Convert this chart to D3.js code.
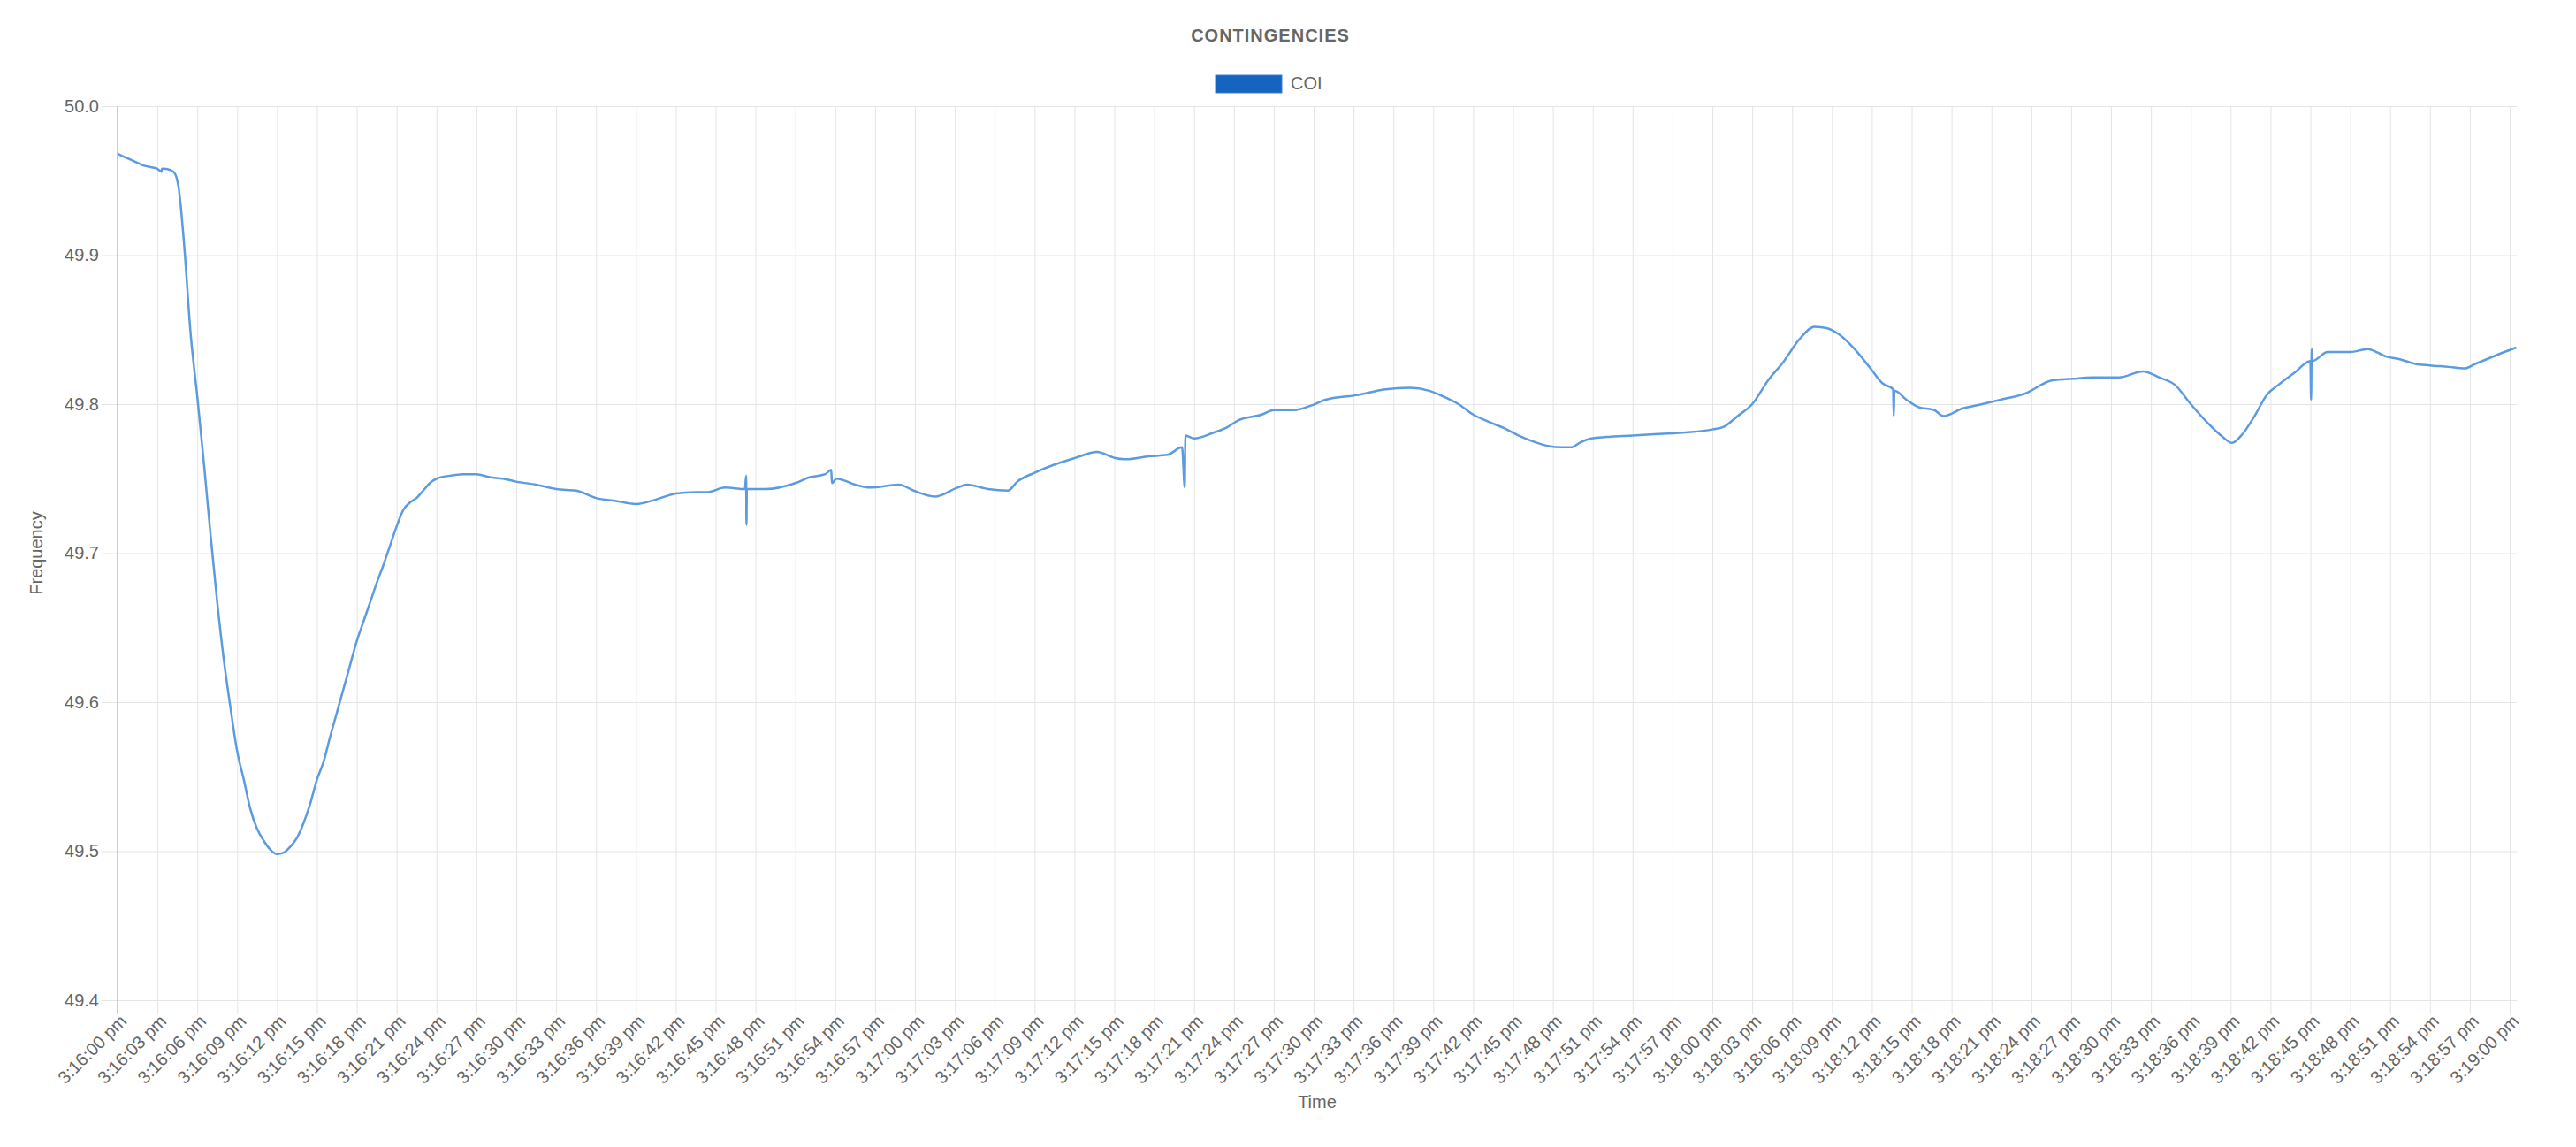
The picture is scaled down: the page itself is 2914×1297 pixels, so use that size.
<!DOCTYPE html>
<meta charset="utf-8">
<head>
  <script src="https://d3js.org/d3.v7.min.js"></script>
  <style>
    body { margin: 0; background: #fff; }
    text { font-family: "Liberation Sans", Arial, Helvetica, sans-serif; fill: #666; }
  </style>
</head>
<body>
<svg width="2914" height="1297"></svg>
<script>
// seconds after 3:16:00 pm
var seconds = [
  0, 0.5, 1, 1.5, 2, 2.5, 3, 3.3, 3.35, 3.5, 4, 4.3, 4.6, 5, 5.5, 6, 6.5, 7, 7.5, 8, 8.5, 9, 9.5,
  10, 10.5, 11, 11.5, 12, 12.5, 13, 13.5, 14, 14.5, 15, 15.5, 16, 16.5, 17, 17.5, 18, 18.5, 19, 19.5,
  20, 20.5, 21, 21.5, 22, 22.5, 23, 23.5, 24, 25, 26, 27, 28, 29, 30, 31.5, 33, 34.5, 36, 37.5, 39,
  40.5, 42, 43.5, 44.4, 45.7, 47.2, 47.3, 47.32, 47.35, 48.8, 51, 52.1, 53.25, 53.7, 53.75, 54.1,
  55.5, 56.6, 58.8, 59.9, 61.5, 63.2, 63.9, 65.5, 67, 67.7, 69, 71, 72.1, 73.7, 75, 75.9, 77.6, 79,
  80.1, 80.3, 80.35, 81, 82.5, 83.4, 84.3, 86.1, 87, 88.5, 89.8, 90.9, 93.2, 95.4, 97.2, 98.7, 99.8,
  100.9, 102, 103.2, 104.3, 105.4, 106.5, 107.6, 108.7, 109.4, 110, 110.9, 112, 114, 116, 118, 120,
  120.9, 121.9, 123, 124.2, 125.4, 126.5, 127.7, 128.6, 129.5, 130.7, 131.9, 132.8, 133.6, 133.65,
  133.7, 134.6, 135.5, 136.7, 137.4, 138.8, 140.3, 141.7, 143.5, 145.6, 147.1, 148.6, 150.6, 152.4,
  153.6, 154.8, 156, 157.2, 158.4, 159.1, 159.9, 160.8, 161.7, 162.6, 163.8, 165, 165.05, 165.1,
  165.15, 166.3, 168, 169.3, 170.7, 171.8, 172.9, 174, 175.4, 176.6, 177.4, 178.5, 179.6, 180.5
];
var frequency = [
  49.968, 49.966, 49.964, 49.962, 49.960, 49.959, 49.958, 49.956, 49.958, 49.958, 49.957, 49.955, 49.945, 49.908, 49.847, 49.805, 49.760, 49.712, 49.667, 49.628, 49.596, 49.567, 49.548,
  49.528, 49.515, 49.507, 49.501, 49.498, 49.499, 49.503, 49.509, 49.519, 49.532, 49.548, 49.560, 49.577, 49.593, 49.609, 49.625, 49.641, 49.654, 49.667, 49.680,
  49.692, 49.705, 49.718, 49.729, 49.734, 49.737, 49.742, 49.747, 49.750, 49.752, 49.753, 49.753, 49.751, 49.750, 49.748, 49.746, 49.743, 49.742, 49.737, 49.735, 49.733,
  49.736, 49.740, 49.741, 49.741, 49.744, 49.743, 49.752, 49.719, 49.743, 49.743, 49.747, 49.751, 49.753, 49.756, 49.747, 49.750,
  49.746, 49.744, 49.746, 49.742, 49.738, 49.744, 49.746, 49.743, 49.742, 49.748, 49.754, 49.761, 49.764, 49.768, 49.764, 49.763, 49.765, 49.766,
  49.771, 49.744, 49.779, 49.777, 49.781, 49.784, 49.789, 49.793, 49.796, 49.796, 49.799, 49.803, 49.806, 49.810, 49.811, 49.809, 49.805,
  49.800, 49.793, 49.788, 49.784, 49.779, 49.775, 49.772, 49.771, 49.771, 49.774, 49.777, 49.778, 49.779, 49.780, 49.781, 49.783,
  49.785, 49.792, 49.800, 49.816, 49.829, 49.843, 49.852, 49.851, 49.847, 49.837, 49.824, 49.814, 49.810, 49.792,
  49.809, 49.803, 49.798, 49.796, 49.792, 49.797, 49.800, 49.803, 49.807, 49.816, 49.817, 49.818, 49.818, 49.822,
  49.818, 49.813, 49.800, 49.788, 49.778, 49.774, 49.780, 49.792, 49.806, 49.813, 49.821, 49.829, 49.803, 49.837,
  49.829, 49.835, 49.835, 49.837, 49.832, 49.830, 49.827, 49.826, 49.825, 49.824, 49.827, 49.831, 49.835, 49.838
];
var yTicks = [49.4, 49.5, 49.6, 49.7, 49.8, 49.9, 50.0];
var seriesName = "COI";
var chartTitle = "CONTINGENCIES";

var svg = d3.select("svg");
var margin = {top: 120, left: 133, right: 67, bottom: 166};
var width = 2914 - margin.left - margin.right;
var height = 1297 - margin.top - margin.bottom;
var start = new Date(2020, 0, 1, 15, 16, 0);
var data = seconds.map(function(s, i) {
  return {time: new Date(start.getTime() + s * 1000), value: frequency[i]};
});

var x = d3.scaleTime()
  .domain([start, new Date(start.getTime() + 180530)])
  .range([0, width]);
var y = d3.scaleLinear().domain([49.4, 50.0]).range([height, 0]);
var fmt = d3.timeFormat("%-I:%M:%S %p");

// y axis + horizontal grid
var yAxis = svg.append("g")
  .attr("transform", "translate(" + (margin.left - 18) + "," + margin.top + ")")
  .call(d3.axisLeft(y).tickValues(yTicks).tickFormat(d3.format(".1f"))
    .tickSize(-(width + 18)).tickPadding(3));
yAxis.select(".domain").remove();
yAxis.selectAll("line").attr("stroke", "#e5e5e5");
yAxis.selectAll("text").style("font-size", "20px").attr("fill", "#666");

// x axis + vertical grid
var xAxis = svg.append("g")
  .attr("transform", "translate(" + margin.left + "," + (margin.top + height + 16) + ")")
  .call(d3.axisBottom(x).ticks(d3.timeSecond.every(3))
    .tickFormat(function(d) { return fmt(d).toLowerCase(); })
    .tickSize(-(height + 16)));
xAxis.select(".domain").remove();
xAxis.selectAll("line").attr("stroke", "#e5e5e5");
xAxis.selectAll("text")
  .style("font-size", "20px")
  .attr("fill", "#666")
  .attr("x", 0).attr("y", 0).attr("dy", "0.35em")
  .attr("text-anchor", "end")
  .attr("transform", "translate(6,4) rotate(-45)");

// left axis line
svg.append("line")
  .attr("x1", margin.left).attr("x2", margin.left)
  .attr("y1", margin.top).attr("y2", margin.top + height + 16)
  .attr("stroke", "#bdbdbd").attr("stroke-width", 1.5);

// the series
svg.append("path")
  .datum(data)
  .attr("transform", "translate(" + margin.left + "," + margin.top + ")")
  .attr("fill", "none")
  .attr("stroke", "#5c9be0")
  .attr("stroke-width", 2.5)
  .attr("stroke-linejoin", "round")
  .attr("d", d3.line()
    .curve(d3.curveMonotoneX)
    .x(function(d) { return x(d.time); })
    .y(function(d) { return y(d.value); }));

// title
svg.append("text")
  .attr("x", 1437).attr("y", 47)
  .attr("text-anchor", "middle")
  .style("font-size", "20px").style("font-weight", "bold").style("letter-spacing", "1px")
  .text(chartTitle);

// legend
svg.append("rect")
  .attr("x", 1375).attr("y", 85).attr("width", 75).attr("height", 20)
  .attr("fill", "#1565c0").attr("stroke", "#3f7fd0").attr("stroke-width", 1);
svg.append("text")
  .attr("x", 1460).attr("y", 101)
  .style("font-size", "20px")
  .text(seriesName);

// axis titles
svg.append("text")
  .attr("transform", "translate(48," + (margin.top + height / 2) + ") rotate(-90)")
  .attr("text-anchor", "middle")
  .style("font-size", "20px")
  .text("Frequency");
svg.append("text")
  .attr("x", margin.left + width / 2).attr("y", 1253)
  .attr("text-anchor", "middle")
  .style("font-size", "20px")
  .text("Time");
</script>
</body>
